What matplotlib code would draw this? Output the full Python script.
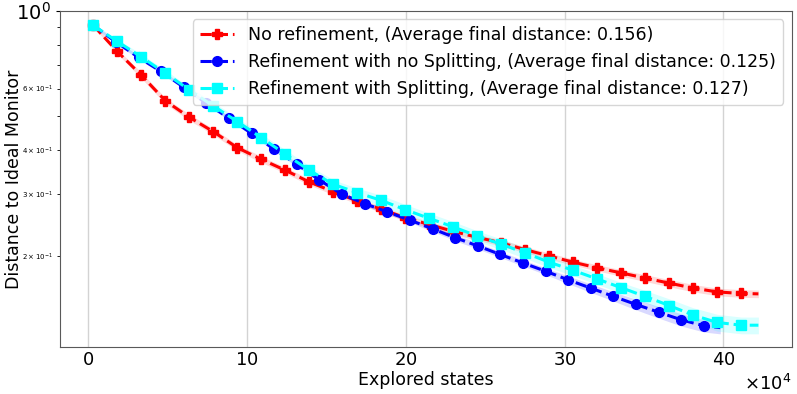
import matplotlib
matplotlib.use("Agg")
import matplotlib.pyplot as plt
import numpy as np

# explored states (x 10^4), one entry per marker plus the final point
x_steps = [0.32, 1.83, 3.34, 4.85, 6.36, 7.88, 9.39, 10.90, 12.41, 13.92,
           15.43, 16.94, 18.45, 19.96, 21.47, 22.99, 24.50, 26.01, 27.52, 29.03,
           30.54, 32.05, 33.56, 35.07, 36.58, 38.10, 39.61, 41.12, 42.20]
x_blue = [0.32, 1.74, 3.17, 4.59, 6.02, 7.44, 8.86, 10.29, 11.71, 13.14,
          14.56, 15.98, 17.41, 18.83, 20.26, 21.68, 23.10, 24.53, 25.95, 27.38,
          28.80, 30.22, 31.65, 33.07, 34.50, 35.92, 37.34, 38.77, 39.80]

no_ref = [0.908, 0.765, 0.655, 0.554, 0.497, 0.452, 0.407, 0.377, 0.351, 0.325,
          0.305, 0.287, 0.272, 0.257, 0.246, 0.235, 0.226, 0.218, 0.2085, 0.200,
          0.192, 0.185, 0.179, 0.173, 0.1674, 0.162, 0.158, 0.1564, 0.156]
ref_nosplit = [0.908, 0.815, 0.736, 0.671, 0.605, 0.545, 0.494, 0.447, 0.403, 0.365,
               0.329, 0.300, 0.282, 0.267, 0.253, 0.239, 0.2256, 0.2136, 0.202, 0.191,
               0.181, 0.171, 0.162, 0.1534, 0.1455, 0.1383, 0.1316, 0.1265, 0.125]
ref_split = [0.908, 0.817, 0.738, 0.664, 0.595, 0.535, 0.483, 0.4345, 0.390, 0.351,
             0.320, 0.303, 0.288, 0.271, 0.256, 0.242, 0.228, 0.216, 0.204, 0.192,
             0.182, 0.172, 0.1624, 0.1534, 0.1445, 0.1356, 0.1293, 0.127, 0.127]

# relative spread of the shaded bands
no_ref_err = [0.01, 0.015, 0.02, 0.02, 0.02, 0.02, 0.02, 0.02, 0.02, 0.02,
              0.02, 0.02, 0.02, 0.02, 0.02, 0.02, 0.02, 0.02, 0.02, 0.02,
              0.02, 0.02, 0.022, 0.022, 0.024, 0.024, 0.025, 0.025, 0.025]
nosplit_err = [0.01, 0.012, 0.012, 0.012, 0.012, 0.012, 0.012, 0.012, 0.012, 0.012,
               0.012, 0.012, 0.015, 0.015, 0.015, 0.018, 0.02, 0.02, 0.02, 0.02,
               0.022, 0.025, 0.028, 0.03, 0.035, 0.038, 0.04, 0.04, 0.04]
split_err = [0.01, 0.015, 0.02, 0.02, 0.02, 0.025, 0.025, 0.025, 0.03, 0.03,
             0.03, 0.03, 0.035, 0.035, 0.035, 0.035, 0.035, 0.035, 0.035, 0.035,
             0.035, 0.035, 0.035, 0.04, 0.045, 0.05, 0.055, 0.055, 0.055]

labels = ["No refinement, (Average final distance: 0.156)",
          "Refinement with no Splitting, (Average final distance: 0.125)",
          "Refinement with Splitting, (Average final distance: 0.127)"]


def main():
    fig = plt.figure(figsize=(7.97, 3.94), dpi=100)
    ax = fig.add_axes([0.0753, 0.119, 0.918, 0.854])

    series = [(x_steps, no_ref, no_ref_err, 'red', 'P'),
              (x_blue, ref_nosplit, nosplit_err, 'blue', 'o'),
              (x_steps, ref_split, split_err, 'cyan', 's')]
    for (xs, ys, err, col, mk), lab in zip(series, labels):
        xs = np.array(xs) * 1e4     # back to number of states
        ys = np.array(ys)
        err = np.array(err)
        ax.fill_between(xs, ys * (1 - err), ys * (1 + err), color=col, alpha=0.15, lw=0)
        ax.plot(xs, ys, '--', color=col, marker=mk, markersize=7, lw=2.2,
                markevery=slice(0, len(xs) - 1), label=lab)

    ax.set_yscale('log')
    ax.set_ylim(0.11, 1.0)
    ax.set_xticks([0, 100000, 200000, 300000, 400000])
    ax.ticklabel_format(axis='x', style='sci', scilimits=(4, 4), useMathText=True)
    ax.xaxis.get_offset_text().set_fontsize(13)
    ax.grid(True, axis='x', color='#d3d3d3', lw=1)
    ax.set_axisbelow(True)
    ax.tick_params(axis='x', length=0, labelsize=13, pad=3)
    ax.tick_params(axis='y', which='major', labelsize=14, length=3)
    ax.tick_params(axis='y', which='minor', labelsize=5, length=2)
    for s in ax.spines.values():
        s.set_color('0.35')
    ax.set_xlabel('Explored states', fontsize=12.5, labelpad=1)
    ax.set_ylabel('Distance to Ideal Monitor', fontsize=12.5)
    ax.yaxis.set_label_coords(-0.051, 0.5)
    ax.legend(loc='upper right', fontsize=12.5)
    fig.savefig('out.png', dpi=100)


if __name__ == "__main__":
    main()
